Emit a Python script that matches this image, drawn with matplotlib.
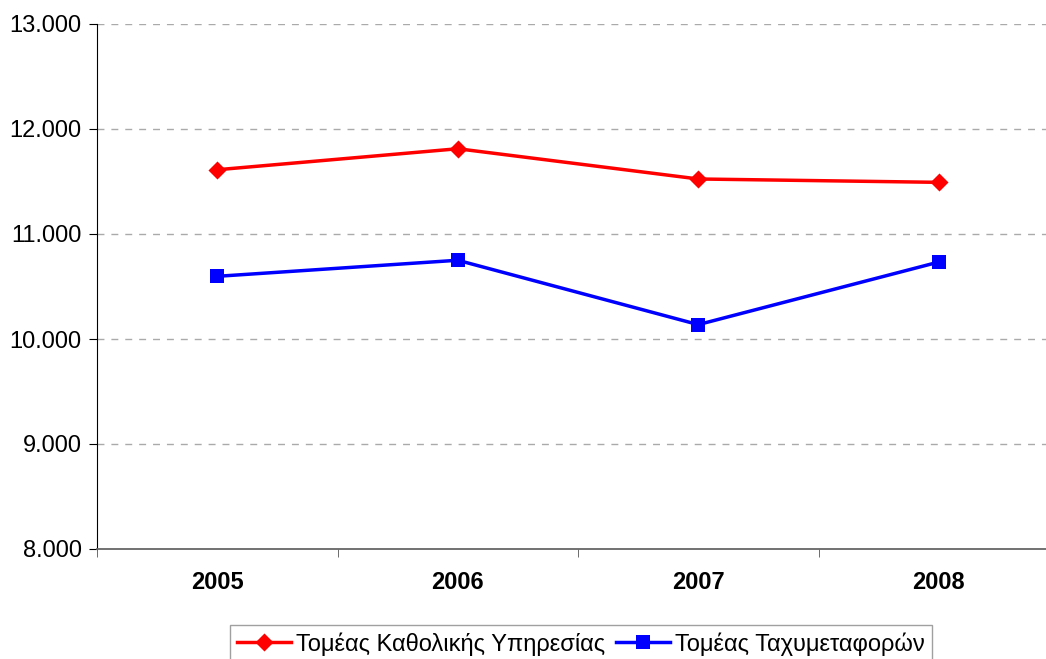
import matplotlib
matplotlib.use('Agg')
import matplotlib.pyplot as plt
from matplotlib.path import Path
import numpy as np

# data
years = ['2005', '2006', '2007', '2008']
katholiki = [11612, 11812, 11524, 11492]   # Τομέας Καθολικής Υπηρεσίας
taxymetafores = [10597, 10750, 10137, 10733]  # Τομέας Ταχυμεταφορών
yticks = [8000, 9000, 10000, 11000, 12000, 13000]
ylabels = ['8.000', '9.000', '10.000', '11.000', '12.000', '13.000']

plt.rcParams['font.family'] = ['Liberation Sans', 'DejaVu Sans']

# diamond whose width and height are both the marker size
diamond = Path([(0, -1), (1, 0), (0, 1), (-1, 0), (0, -1)], closed=True)

W, H = 1046, 659
fig = plt.figure(figsize=(W / 100, H / 100), dpi=100, facecolor='w')
# plot area runs past the right edge of the picture, as in the original
left, right, top, bottom = 97, 1059, 24, 549
ax = fig.add_axes([left / W, (H - bottom) / H, (right - left) / W, (bottom - top) / H])

x = np.arange(len(years))
ax.plot(x, katholiki, color='#ff0000', lw=2.5, marker=diamond, ms=13, mec='#ff0000',
        mew=0, label='Τομέας Καθολικής Υπηρεσίας', clip_on=False)
ax.plot(x, taxymetafores, color='#0000ff', lw=2.5, marker='s', ms=10.3, mec='#0000ff',
        mew=0, label='Τομέας Ταχυμεταφορών', clip_on=False)

ax.set_xlim(-0.5, len(years) - 0.5)
ax.set_ylim(8000, 13000)
ax.set_yticks(yticks)
ax.set_yticklabels(ylabels, fontsize=17)
ax.set_xticks(x)
ax.set_xticklabels(years, fontsize=17, fontweight='bold')
ax.set_xticks(np.arange(len(years) + 1) - 0.5, minor=True)
ax.tick_params(axis='x', which='major', length=0, pad=16)
ax.tick_params(axis='x', which='minor', length=6, direction='out', color='#555555')
ax.tick_params(axis='y', length=6, direction='out', pad=5)

for s in ['top', 'right']:
    ax.spines[s].set_visible(False)
ax.spines['left'].set_color('black')
ax.spines['bottom'].set_color('#666666')
ax.spines['bottom'].set_linewidth(1.3)

for v in yticks[1:]:
    ax.axhline(v, color='#aaaaaa', lw=1, ls=(0, (5, 5)), zorder=0)

l = ax.legend(loc='upper left', bbox_to_anchor=(230 / W, (H - 625) / H),
              bbox_transform=fig.transFigure, ncol=2, fontsize=17,
              frameon=True, fancybox=False, handlelength=2.3, handletextpad=0.2,
              columnspacing=0.45, borderpad=0.3, borderaxespad=0)
l.get_frame().set_edgecolor('#888888')
l.get_frame().set_linewidth(1)

fig.savefig('out.png', dpi=100)
